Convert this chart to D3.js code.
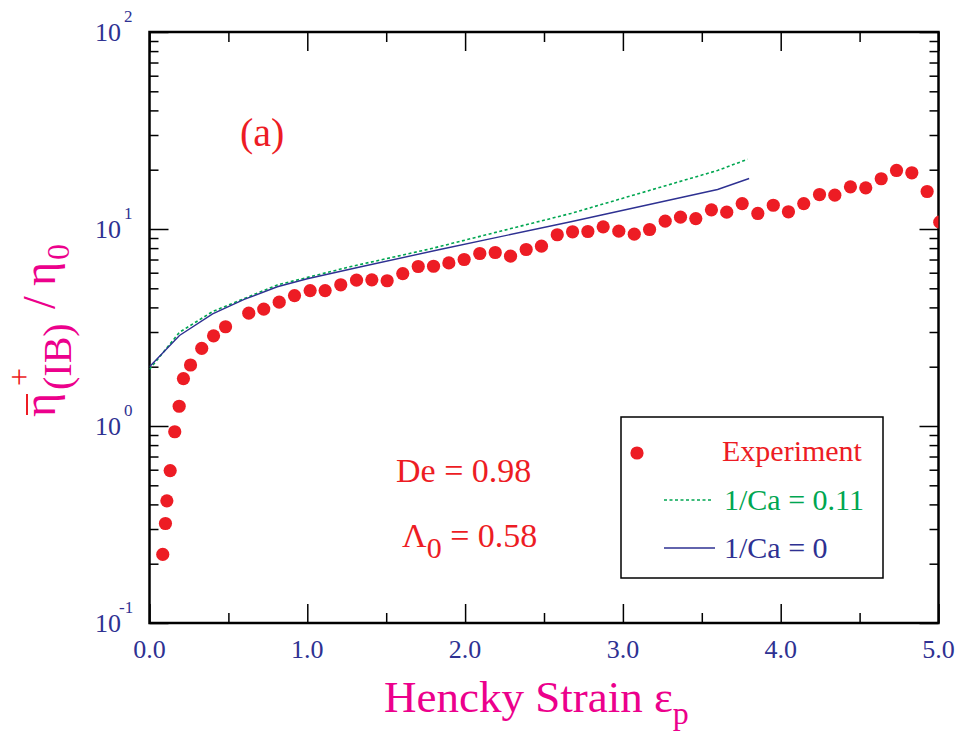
<!DOCTYPE html>
<html>
<head>
<meta charset="utf-8">
<script src="https://cdn.jsdelivr.net/npm/d3@7"></script>
<style>
  body { margin: 0; background: #fff; }
  svg { display: block; }
  text { font-family: "Liberation Serif", "Times New Roman", serif; }
</style>
</head>
<body>
<svg id="chart" width="962" height="732"></svg>
<script>
// experiment (red dots)
var expStrain = [0.084,0.101,0.110,0.131,0.160,0.188,0.215,0.260,0.331,0.406,0.482,0.629,0.724,0.822,0.919,
                 1.018,1.113,1.212,1.312,1.409,1.506,1.605,1.703,1.800,1.897,1.994,2.093,2.191,2.288,2.387,
                 2.484,2.584,2.681,2.778,2.875,2.974,3.072,3.169,3.268,3.365,3.462,3.561,3.658,3.756,3.855,
                 3.953,4.049,4.146,4.246,4.343,4.442,4.539,4.637,4.734,4.831,4.928,5.008];
var expEta = [0.223,0.320,0.417,0.594,0.935,1.26,1.74,2.04,2.48,2.87,3.19,3.74,3.92,4.25,4.59,
              4.87,4.87,5.21,5.50,5.52,5.46,5.94,6.45,6.47,6.73,7.00,7.51,7.60,7.28,7.87,
              8.18,9.35,9.68,9.71,10.26,9.75,9.41,9.94,10.96,11.48,11.30,12.51,12.17,13.46,11.99,
              13.20,12.23,13.46,14.96,14.85,16.37,16.18,17.99,19.82,19.29,15.50,10.83];

// model, 1/Ca = 0.11 (green dotted)
var caStrain = [0, 0.19, 0.40, 0.81, 1.27, 1.78, 2.67, 3.60, 3.79];
var caEta    = [1.94, 2.99, 3.81, 5.20, 6.43, 7.93, 11.99, 19.82, 22.6];

// model, 1/Ca = 0 (blue solid)
var zeroStrain = [0, 0.19, 0.40, 0.60, 0.81, 1.0, 1.34, 1.84, 2.67, 3.60, 3.80];
var zeroEta    = [2.0, 2.88, 3.71, 4.39, 5.09, 5.59, 6.43, 7.87, 10.88, 15.87, 18.04];

var xTicks = [0, 1, 2, 3, 4, 5];
var xMinor = [0.5, 1.5, 2.5, 3.5, 4.5];
var yDecades = [0.1, 1, 10, 100];
var yExpLabels = ["-1", "0", "1", "2"];

var RED = "#ed1c24", MAGENTA = "#ec008c", NAVY = "#2e3192", GREEN = "#00a651";

var svg = d3.select("#chart");
// note: "top" is taken by window.top, so use mTop etc.
var mLeft = 149.5, mRight = 938.5, mTop = 32, mBottom = 623;
var w = mRight - mLeft, h = mBottom - mTop;

var x = d3.scaleLinear().domain([0, 5]).range([mLeft, mRight]);
var y = d3.scaleLog().domain([0.1, 100]).range([mBottom, mTop]);

var yMinor = [];
[0.1, 1, 10].forEach(function(d) {
  for (var k = 2; k <= 9; k++) yMinor.push(d * k);
});

svg.append("defs").append("clipPath").attr("id", "plotclip")
   .append("rect").attr("x", mLeft).attr("y", mTop).attr("width", w).attr("height", h);

// ticks on all four sides, pointing inward
function drawAxis(axisFn, scale, values, size, tr) {
  var g = svg.append("g")
             .attr("transform", tr)
             .call(axisFn(scale).tickValues(values).tickSize(-size).tickFormat(""));
  g.select(".domain").remove();
  g.selectAll(".tick line").attr("stroke", "#000").attr("stroke-width", 1.5);
  return g;
}
drawAxis(d3.axisBottom, x, xTicks, 19, "translate(0," + mBottom + ")");
drawAxis(d3.axisBottom, x, xMinor, 10, "translate(0," + mBottom + ")");
drawAxis(d3.axisTop, x, xTicks, 19, "translate(0," + mTop + ")");
drawAxis(d3.axisTop, x, xMinor, 10, "translate(0," + mTop + ")");
drawAxis(d3.axisLeft, y, yDecades, 19, "translate(" + mLeft + ",0)");
drawAxis(d3.axisLeft, y, yMinor, 9, "translate(" + mLeft + ",0)");
drawAxis(d3.axisRight, y, yDecades, 19, "translate(" + mRight + ",0)");
drawAxis(d3.axisRight, y, yMinor, 9, "translate(" + mRight + ",0)");

svg.append("rect")
   .attr("x", mLeft).attr("y", mTop).attr("width", w).attr("height", h)
   .attr("fill", "none").attr("stroke", "#000").attr("stroke-width", 2.5);

// tick labels
svg.selectAll(".xlab").data(xTicks).enter().append("text")
   .attr("class", "xlab")
   .attr("x", function(d) { return x(d); })
   .attr("y", 658)
   .attr("text-anchor", "middle")
   .attr("font-size", 26)
   .attr("fill", NAVY)
   .text(function(d) { return d.toFixed(1); });

svg.selectAll(".ylab").data(yDecades).enter().append("text")
   .attr("class", "ylab")
   .attr("x", 121)
   .attr("y", function(d) { return y(d) + 9; })
   .attr("text-anchor", "end")
   .attr("font-size", 26)
   .attr("fill", NAVY)
   .text("10");
svg.selectAll(".yexp").data(yDecades).enter().append("text")
   .attr("class", "yexp")
   .attr("x", function(d, i) { return yExpLabels[i].length > 1 ? 119 : 124; })
   .attr("y", function(d) { return y(d) - 10; })
   .attr("font-size", 17)
   .attr("fill", NAVY)
   .text(function(d, i) { return yExpLabels[i]; });

// data
var plot = svg.append("g").attr("clip-path", "url(#plotclip)");

var line = d3.line()
             .x(function(d) { return x(d[0]); })
             .y(function(d) { return y(d[1]); });

plot.append("path")
    .datum(d3.zip(caStrain, caEta))
    .attr("d", line)
    .attr("fill", "none")
    .attr("stroke", GREEN)
    .attr("stroke-width", 1.6)
    .attr("stroke-dasharray", "3,2.5");

plot.append("path")
    .datum(d3.zip(zeroStrain, zeroEta))
    .attr("d", line)
    .attr("fill", "none")
    .attr("stroke", NAVY)
    .attr("stroke-width", 1.4);

plot.selectAll(".dot")
    .data(d3.zip(expStrain, expEta))
    .enter().append("circle")
    .attr("class", "dot")
    .attr("cx", function(d) { return x(d[0]); })
    .attr("cy", function(d) { return y(d[1]); })
    .attr("r", 6.6)
    .attr("fill", RED);

// annotations
svg.append("text").attr("x", 240).attr("y", 146).attr("font-size", 40)
   .attr("fill", RED).text("(a)");
svg.append("text").attr("x", 396).attr("y", 482).attr("font-size", 34)
   .attr("fill", RED).text("De = 0.98");
var lam = svg.append("text").attr("x", 402).attr("y", 547).attr("font-size", 34).attr("fill", RED);
lam.append("tspan").text("\u039B");
lam.append("tspan").attr("font-size", 30).attr("dy", 11).text("0");
lam.append("tspan").attr("dy", -11).text(" = 0.58");

// legend
var leg = svg.append("g");
leg.append("rect").attr("x", 621).attr("y", 417).attr("width", 262).attr("height", 161)
   .attr("fill", "#fff").attr("stroke", "#000").attr("stroke-width", 1.5);
leg.append("circle").attr("cx", 637).attr("cy", 453).attr("r", 6.6).attr("fill", RED);
leg.append("text").attr("x", 722).attr("y", 461).attr("font-size", 30).attr("fill", RED)
   .text("Experiment");
leg.append("line").attr("x1", 664).attr("x2", 712).attr("y1", 500).attr("y2", 500)
   .attr("stroke", GREEN).attr("stroke-width", 1.6).attr("stroke-dasharray", "3,2.5");
leg.append("text").attr("x", 724).attr("y", 509.5).attr("font-size", 30).attr("fill", GREEN)
   .text("1/Ca = 0.11");
leg.append("line").attr("x1", 664).attr("x2", 715).attr("y1", 548).attr("y2", 548)
   .attr("stroke", NAVY).attr("stroke-width", 1.4);
leg.append("text").attr("x", 724).attr("y", 558).attr("font-size", 30).attr("fill", NAVY)
   .text("1/Ca = 0");

// x axis title
var xt = svg.append("text").attr("x", 384).attr("y", 712).attr("font-size", 45).attr("fill", MAGENTA);
xt.append("tspan").text("Hencky Strain \u03B5");
xt.append("tspan").attr("font-size", 32).attr("dy", 12).text("p");

// y axis title, pieces laid out along the rotated baseline
var yt = svg.append("g").attr("transform", "translate(55,417) rotate(-90)");
yt.append("text").attr("x", 0).attr("y", 0).attr("font-size", 46).attr("fill", MAGENTA).text("\u03B7");
yt.append("line").attr("x1", 2).attr("x2", 23).attr("y1", -28).attr("y2", -28)
  .attr("stroke", RED).attr("stroke-width", 2);
yt.append("text").attr("x", 40).attr("y", -25).attr("font-size", 32).attr("text-anchor", "middle")
  .attr("fill", RED).text("+");
yt.append("text").attr("x", 27).attr("y", 16).attr("font-size", 40).attr("fill", MAGENTA).text("(IB)");
yt.append("text").attr("x", 108).attr("y", 0).attr("font-size", 46).attr("fill", MAGENTA).text("/");
yt.append("text").attr("x", 131).attr("y", 0).attr("font-size", 46).attr("fill", MAGENTA).text("\u03B7");
yt.append("text").attr("x", 157).attr("y", 14).attr("font-size", 32).attr("fill", MAGENTA).text("0");
</script>
</body>
</html>
